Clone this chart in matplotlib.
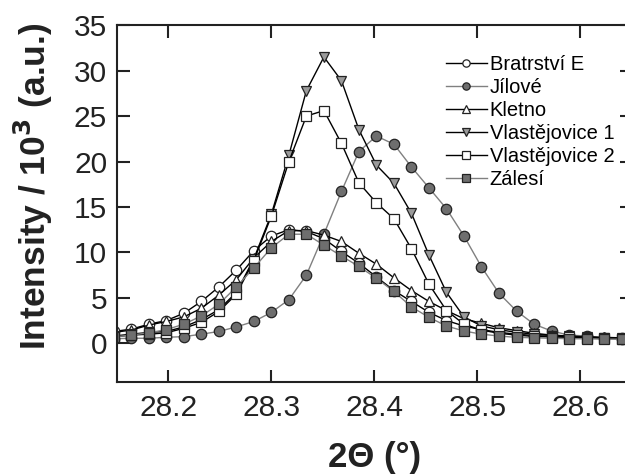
import matplotlib
matplotlib.use("Agg")
import matplotlib.pyplot as plt

plt.rcParams['font.family'] = ['Liberation Sans', 'DejaVu Sans']

# 2 theta positions (deg)
two_theta = [28.147, 28.164, 28.181, 28.198, 28.215, 28.232, 28.249, 28.266, 28.283, 28.300,
             28.317, 28.334, 28.351, 28.368, 28.385, 28.402, 28.419, 28.436, 28.453, 28.470,
             28.487, 28.504, 28.521, 28.538, 28.555, 28.572, 28.589, 28.606, 28.623, 28.640]

# intensities / 10^3
bratrstvi = [1.3, 1.55, 2.1, 2.5, 3.3, 4.6, 6.2, 8.05, 10.2, 11.8,
             12.5, 12.3, 11.5, 10.1, 8.8, 7.3, 5.8, 4.6, 3.4, 2.5,
             1.9, 1.5, 1.2, 1.0, 0.85, 0.75, 0.7, 0.65, 0.6, 0.55]
jilove = [0.5, 0.55, 0.55, 0.66, 0.73, 1.0, 1.3, 1.8, 2.4, 3.4,
          4.8, 7.5, 12.0, 16.7, 21.1, 22.8, 21.9, 19.4, 17.1, 14.8,
          11.8, 8.4, 5.5, 3.55, 2.1, 1.35, 0.9, 0.8, 0.55, 0.45]
kletno = [1.2, 1.45, 2.0, 2.4, 2.9, 3.85, 5.3, 7.0, 9.4, 11.2,
          12.4, 12.4, 11.9, 11.2, 9.9, 8.7, 7.2, 5.8, 4.6, 3.6,
          2.7, 2.2, 1.7, 1.4, 1.1, 0.9, 0.8, 0.7, 0.65, 0.6]
vlast1 = [0.8, 1.0, 1.2, 1.3, 1.8, 2.6, 3.7, 5.6, 9.3, 14.2,
          20.7, 27.8, 31.5, 28.9, 23.5, 19.6, 17.6, 14.3, 9.7, 5.6,
          2.9, 1.9, 1.5, 1.2, 1.0, 0.85, 0.75, 0.7, 0.6, 0.55]
vlast2 = [0.7, 0.9, 1.0, 1.15, 1.65, 2.3, 3.5, 5.4, 9.1, 14.0,
          20.0, 25.0, 25.6, 22.0, 17.65, 15.45, 13.7, 10.4, 6.5, 3.6,
          2.1, 1.45, 1.1, 0.9, 0.75, 0.7, 0.65, 0.6, 0.55, 0.5]
zalesi = [0.7, 0.9, 1.15, 1.5, 2.1, 3.0, 4.3, 6.2, 8.3, 10.5,
          12.0, 12.0, 10.8, 9.6, 8.45, 7.15, 5.7, 4.0, 2.85, 1.9,
          1.35, 1.0, 0.8, 0.65, 0.6, 0.55, 0.5, 0.5, 0.45, 0.45]

labels = ['Bratrství E', 'Jílové', 'Kletno', 'Vlastějovice 1', 'Vlastějovice 2', 'Zálesí']
xticks = [28.2, 28.3, 28.4, 28.5, 28.6]
yticks = [0, 5, 10, 15, 20, 25, 30, 35]

fig = plt.figure(figsize=(6.25, 4.75), dpi=100)
ax = fig.add_axes([0.187, 0.196, 0.824, 0.751])

# (data, marker, face, line colour)
series = [
    (bratrstvi, 'o', 'white', 'black'),
    (jilove, 'o', '#6e6e6e', '#808080'),
    (kletno, '^', 'white', 'black'),
    (vlast1, 'v', '#9a9a9a', 'black'),
    (vlast2, 's', 'white', 'black'),
    (zalesi, 's', '#6e6e6e', '#808080'),
]
for (y, m, fc, lc), lab in zip(series, labels):
    ax.plot(two_theta, y, color=lc, lw=1.0, marker=m, ms=7.5,
            mfc=fc, mec='#222222', mew=0.9, label=lab)

ax.set_xlim(28.15, 28.65)
ax.set_ylim(-4.25, 35)
ax.set_xticks(xticks)
ax.set_xticklabels([f'{t:.1f}' for t in xticks])
ax.set_yticks(yticks)

for s in ax.spines.values():
    s.set_linewidth(1.5)
    s.set_color('#222222')
ax.tick_params(direction='in', length=9, width=1.5, labelsize=21.5,
               top=True, right=True, colors='#222222', labelcolor='#222222')
ax.tick_params(axis='x', pad=9)
ax.tick_params(axis='y', pad=7)

ax.set_xlabel('2Θ (°)', fontsize=25, fontweight='bold', color='#222222')
ax.xaxis.set_label_coords(0.5, -0.165)
ax.set_ylabel('Intensity / 10$^{\\mathbf{3}}$ (a.u.)', fontsize=25.5, fontweight='bold', color='#222222')
ax.yaxis.set_label_coords(-0.12, 0.548)

leg = ax.legend(loc='upper left', bbox_to_anchor=(0.624, 0.94), frameon=False,
                fontsize=14.5, handlelength=2.0, handletextpad=0.15,
                labelspacing=0.2, markerscale=0.7, borderaxespad=0)

fig.savefig('out.png', dpi=100)
